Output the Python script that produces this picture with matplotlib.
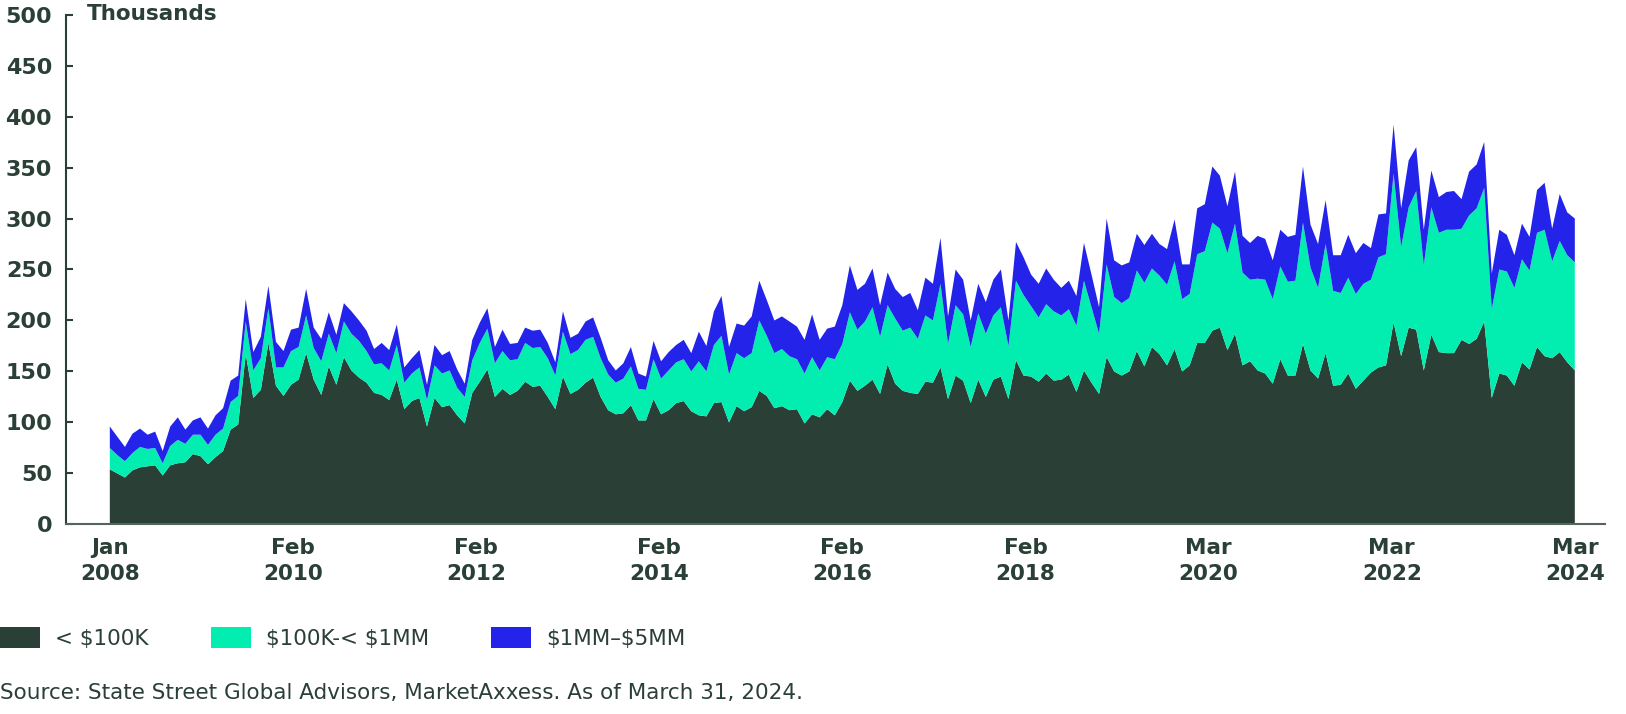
import numpy as np
import matplotlib
matplotlib.use('Agg')
import matplotlib.pyplot as plt
from matplotlib.patches import Patch

plt.rcParams['text.parse_math'] = False

# monthly values, thousands, Jan 2008 .. Mar 2024
small = [54, 50, 46, 53, 56, 57, 58, 48, 58, 60,
         61, 69, 67, 59, 66, 72, 93, 98, 167, 124,
         132, 178, 136, 126, 137, 142, 168, 142, 127, 155,
         137, 164, 151, 144, 139, 129, 127, 122, 142, 113,
         121, 124, 96, 124, 115, 117, 107, 99, 129, 140,
         152, 125, 133, 127, 131, 140, 135, 136, 125, 113,
         145, 128, 132, 139, 144, 125, 112, 108, 109, 117,
         102, 102, 123, 108, 112, 119, 121, 111, 107, 106,
         119, 120, 100, 116, 111, 115, 131, 126, 114, 116,
         112, 113, 99, 108, 105, 113, 107, 120, 141, 131,
         136, 142, 128, 157, 138, 131, 129, 128, 140, 139,
         154, 123, 146, 141, 119, 142, 125, 142, 145, 123,
         161, 146, 145, 140, 148, 141, 142, 147, 130, 151,
         139, 128, 164, 150, 146, 150, 170, 155, 174, 167,
         156, 172, 150, 156, 178, 178, 190, 193, 171, 187,
         156, 160, 151, 148, 138, 162, 146, 146, 177, 151,
         143, 168, 136, 137, 148, 133, 141, 149, 154, 156,
         198, 165, 193, 191, 151, 186, 169, 168, 168, 181,
         177, 182, 199, 124, 148, 146, 136, 159, 152, 174,
         165, 163, 169, 159, 151]

mid = [21, 18, 16, 17, 20, 17, 17, 12, 19, 23,
       18, 19, 21, 19, 22, 22, 27, 28, 32, 27,
       31, 34, 18, 28, 33, 32, 37, 31, 33, 32,
       31, 35, 36, 36, 31, 28, 31, 29, 34, 26,
       27, 30, 26, 32, 33, 34, 27, 26, 32, 38,
       40, 33, 37, 34, 31, 38, 38, 38, 38, 33,
       44, 39, 39, 42, 40, 38, 35, 31, 34, 38,
       31, 30, 39, 35, 39, 40, 41, 39, 53, 44,
       57, 65, 47, 52, 52, 53, 69, 59, 54, 56,
       53, 49, 49, 56, 46, 51, 55, 57, 67, 60,
       63, 71, 56, 58, 64, 59, 64, 54, 65, 61,
       82, 54, 69, 65, 55, 65, 62, 63, 68, 52,
       78, 79, 69, 63, 68, 68, 63, 64, 65, 88,
       74, 59, 91, 73, 71, 72, 79, 82, 77, 77,
       79, 86, 71, 70, 87, 90, 106, 97, 95, 108,
       91, 80, 90, 92, 83, 91, 92, 93, 119, 101,
       89, 107, 93, 90, 94, 93, 95, 91, 108, 109,
       146, 107, 118, 136, 103, 125, 117, 121, 121, 109,
       126, 128, 131, 87, 102, 102, 96, 101, 97, 112,
       124, 95, 109, 105, 106]

large = [21, 18, 14, 19, 18, 14, 16, 12, 19, 22,
         14, 14, 17, 16, 19, 20, 21, 20, 22, 18,
         21, 22, 25, 16, 21, 19, 26, 20, 22, 21,
         18, 18, 22, 20, 20, 15, 20, 20, 20, 15,
         15, 17, 15, 20, 18, 19, 18, 13, 20, 20,
         20, 16, 21, 16, 16, 15, 17, 17, 15, 13,
         20, 16, 16, 18, 19, 20, 14, 12, 15, 19,
         15, 13, 18, 17, 18, 17, 19, 18, 29, 25,
         33, 39, 27, 29, 32, 36, 39, 35, 32, 32,
         34, 32, 33, 42, 30, 28, 32, 38, 46, 39,
         37, 38, 31, 32, 29, 33, 34, 28, 37, 36,
         45, 27, 35, 34, 26, 29, 31, 35, 37, 25,
         38, 37, 31, 33, 35, 31, 27, 28, 29, 37,
         32, 26, 45, 36, 37, 35, 36, 37, 34, 31,
         35, 41, 34, 29, 45, 46, 55, 52, 46, 51,
         36, 36, 42, 40, 38, 36, 44, 45, 55, 42,
         43, 43, 35, 37, 42, 40, 40, 31, 42, 40,
         48, 38, 46, 43, 35, 36, 35, 37, 38, 29,
         43, 43, 45, 35, 39, 36, 32, 35, 33, 42,
         46, 32, 46, 42, 43]

series_names = ['< $100K', '$100K-< $1MM', '$1MM–$5MM']
tick_labels = ['Jan\n2008', 'Feb\n2010', 'Feb\n2012', 'Feb\n2014', 'Feb\n2016',
               'Feb\n2018', 'Mar\n2020', 'Mar\n2022', 'Mar\n2024']

dark = '#2a3f35'
colors = ['#2a3f35', '#02eeb1', '#2323ea']

x = np.arange(len(small))

fig = plt.figure(figsize=(16.26, 7.14), dpi=100)
ax = fig.add_axes([0.0406, 0.2655, 0.9465, 0.7141])
ax.stackplot(x, small, mid, large, colors=colors, linewidth=0)

ax.set_xlim(-5.8, 198)
ax.set_ylim(0, 500)
ax.set_yticks(np.arange(0, 501, 50))
ax.set_xticks(np.linspace(0, len(small) - 1, len(tick_labels)))
ax.set_xticklabels(tick_labels, linespacing=1.35)

for s in ['top', 'right']:
    ax.spines[s].set_visible(False)
ax.spines['left'].set_color(dark)
ax.spines['left'].set_linewidth(1.5)
ax.spines['bottom'].set_color('#55655d')
ax.spines['bottom'].set_linewidth(1.5)

ax.tick_params(axis='y', direction='in', length=5, width=1.5, color=dark,
               labelsize=16, labelcolor=dark, pad=10)
ax.tick_params(axis='x', length=0, labelsize=15.5, labelcolor=dark, pad=10)
for lab in ax.get_xticklabels() + ax.get_yticklabels():
    lab.set_fontweight('bold')

fig.text(87 / 1626, 0.972, 'Thousands', fontsize=15.5, fontweight='bold',
         color=dark, va='baseline', ha='left')

handles = [Patch(facecolor=c, edgecolor='none') for c in colors]
fig.legend(handles, series_names, loc='center left', bbox_to_anchor=(0.0, 0.1065),
           ncol=3, frameon=False, fontsize=15.5, labelcolor=dark,
           handlelength=1.85, handleheight=1.1, handletextpad=0.7,
           columnspacing=2.9, borderpad=0, borderaxespad=0)

fig.text(0.0, 0.029, 'Source: State Street Global Advisors, MarketAxxess. As of March 31, 2024.',
         fontsize=15.5, color=dark, va='center', ha='left')

plt.savefig('out.png', dpi=100)
